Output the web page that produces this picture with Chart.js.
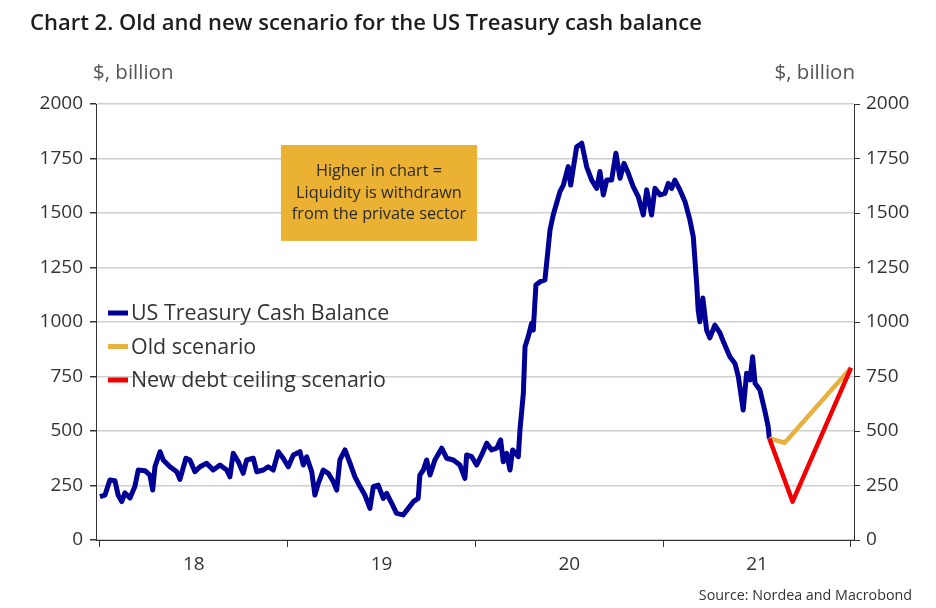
<!DOCTYPE html>
<html>
<head>
<meta charset="utf-8">
<script src="https://cdn.jsdelivr.net/npm/chart.js@4.4.0/dist/chart.umd.min.js"></script>
<style>
  html, body { margin: 0; padding: 0; background: #fff; }
  #wrap { position: relative; width: 936px; height: 608px; overflow: hidden; font-family: 'Open Sans', sans-serif; }
  #chart { position: absolute; left: 0; top: 0; }
  .txt { position: absolute; white-space: nowrap; line-height: 1; }
  #title { left: 30px; top: 10px; font-size: 22px; font-weight: 600; color: #1e1e1e; }
  .unit { top: 61px; font-size: 20.5px; color: #555; }
  #unitL { left: 93px; }
  #unitR { right: 81px; }
  #source { right: 24px; top: 588px; font-size: 14.3px; color: #333; }
</style>
</head>
<body>
<div id="wrap">
  <canvas id="chart" width="936" height="608" style="width:936px;height:608px"></canvas>
  <div class="txt" id="title">Chart 2. Old and new scenario for the US Treasury cash balance</div>
  <div class="txt unit" id="unitL">$, billion</div>
  <div class="txt unit" id="unitR">$, billion</div>
  <div class="txt" id="source">Source: Nordea and Macrobond</div>
</div>
<script>
// ---- data ----
const cashDates = [
  2018.000, 2018.027, 2018.053, 2018.080, 2018.097, 2018.116, 2018.133, 2018.160, 2018.186, 2018.204,
  2018.240, 2018.266, 2018.281, 2018.293, 2018.320, 2018.337, 2018.373, 2018.409, 2018.426, 2018.458,
  2018.479, 2018.506, 2018.533, 2018.568, 2018.603, 2018.639, 2018.675, 2018.692, 2018.710, 2018.737,
  2018.763, 2018.781, 2018.817, 2018.835, 2018.870, 2018.896, 2018.923, 2018.950, 2018.976, 2019.003,
  2019.030, 2019.065, 2019.083, 2019.101, 2019.128, 2019.145, 2019.163, 2019.189, 2019.216, 2019.243,
  2019.261, 2019.278, 2019.305, 2019.332, 2019.358, 2019.385, 2019.411, 2019.438, 2019.456, 2019.482,
  2019.509, 2019.527, 2019.554, 2019.580, 2019.615, 2019.642, 2019.669, 2019.695, 2019.704, 2019.722,
  2019.740, 2019.758, 2019.784, 2019.820, 2019.847, 2019.882, 2019.917, 2019.944, 2019.953, 2019.980,
  2020.006, 2020.033, 2020.060, 2020.086, 2020.113, 2020.134, 2020.148, 2020.166, 2020.184, 2020.198,
  2020.228, 2020.237, 2020.255, 2020.264, 2020.281, 2020.299, 2020.308, 2020.322, 2020.344, 2020.370,
  2020.379, 2020.397, 2020.414, 2020.432, 2020.450, 2020.468, 2020.494, 2020.507, 2020.539, 2020.566,
  2020.592, 2020.619, 2020.646, 2020.663, 2020.681, 2020.699, 2020.725, 2020.748, 2020.770, 2020.791,
  2020.814, 2020.840, 2020.867, 2020.894, 2020.912, 2020.938, 2020.956, 2020.983, 2021.009, 2021.027,
  2021.045, 2021.062, 2021.089, 2021.116, 2021.142, 2021.160, 2021.178, 2021.186, 2021.195, 2021.211,
  2021.231, 2021.248, 2021.275, 2021.302, 2021.320, 2021.355, 2021.382, 2021.400, 2021.426, 2021.444,
  2021.462, 2021.476, 2021.489, 2021.515, 2021.542, 2021.559, 2021.565
];
const cashValues = [
  199, 206, 275, 272, 206, 176, 216, 193, 245, 321,
  318, 298, 229, 336, 405, 367, 336, 313, 278, 375,
  367, 313, 336, 352, 321, 344, 321, 290, 398, 359,
  306, 367, 375, 313, 321, 336, 321, 405, 375, 336,
  390, 405, 344, 382, 313, 206, 260, 321, 306, 267,
  229, 367, 413, 352, 290, 245, 206, 145, 245, 252,
  191, 214, 168, 122, 115, 145, 176, 191, 298, 321,
  367, 298, 367, 421, 375, 367, 344, 283, 390, 382,
  344, 390, 444, 413, 421, 459, 359, 398, 321, 413,
  382, 505, 673, 887, 933, 994, 963, 1170, 1185, 1193,
  1269, 1422, 1491, 1545, 1598, 1628, 1713, 1628, 1804, 1820,
  1713, 1651, 1613, 1690, 1583, 1651, 1651, 1774, 1659, 1728,
  1682, 1621, 1575, 1491, 1606, 1491, 1613, 1583, 1590, 1636,
  1613, 1651, 1606, 1552, 1468, 1391, 1177, 1055, 1001, 1110,
  963, 927, 986, 950, 910, 841, 810, 749, 596, 765,
  734, 841, 719, 688, 589, 520, 466
];
const oldDates = [2021.565, 2021.647, 2022.0];
const oldValues = [466, 446, 790];
const newDates = [2021.565, 2021.689, 2022.0];
const newValues = [466, 176, 790];

const seriesNames = ['US Treasury Cash Balance', 'Old scenario', 'New debt ceiling scenario'];
const seriesColors = ['#000096', '#e8b03e', '#f00000'];

const yearTicks = [2018, 2019, 2020, 2021, 2022];
const yearLabels = ['18', '19', '20', '21'];

const noteLines = ['Higher in chart =', 'Liquidity is withdrawn', 'from the private sector'];

// ---- helpers ----
const toPoints = (xs, ys) => xs.map((x, i) => ({ x: x, y: ys[i] }));

const labelAt = {};
yearLabels.forEach((l, i) => labelAt[(yearTicks[i] + 0.5).toFixed(1)] = l);
const xTickValues = [];
yearTicks.forEach((y, i) => {
    xTickValues.push(y);
    if (i < yearLabels.length) xTickValues.push(y + 0.5);
});

const isYearTick = ctx => ctx.tick && Math.abs(ctx.tick.value % 1) < 1e-6;

// legend drawn inside the plot
const insideLegend = {
    id: 'insideLegend',
    afterDatasetsDraw(chart) {
        const ctx = chart.ctx;
        const area = chart.chartArea;
        ctx.save();
        ctx.font = '21.4px "Open Sans"';
        ctx.textBaseline = 'middle';
        ctx.textAlign = 'left';
        seriesNames.forEach((name, i) => {
            const y = area.top + 209 + i * 33.5;
            ctx.fillStyle = seriesColors[i];
            ctx.fillRect(area.left + 12, y - 2.5, 20, 5);
            ctx.fillStyle = '#333';
            ctx.fillText(name, area.left + 35, y + 1);
        });
        ctx.restore();
    }
};

// yellow note box
const noteBox = {
    id: 'noteBox',
    beforeDatasetsDraw(chart) {
        const ctx = chart.ctx;
        const xs = chart.scales.x;
        const ys = chart.scales.y;
        const left = xs.getPixelForValue(2018.964);
        const right = xs.getPixelForValue(2020.008);
        const top = ys.getPixelForValue(1812);
        const bottom = ys.getPixelForValue(1372);
        ctx.save();
        ctx.fillStyle = '#eab132';
        ctx.fillRect(left, top, right - left, bottom - top);
        ctx.fillStyle = '#2a2a2a';
        ctx.font = '16.3px "Open Sans"';
        ctx.textAlign = 'center';
        ctx.textBaseline = 'middle';
        const cx = (left + right) / 2;
        const cy = (top + bottom) / 2;
        noteLines.forEach((t, i) => ctx.fillText(t, cx, cy + (i - 1) * 21.3));
        ctx.restore();
    }
};

const tickFont = { family: 'Open Sans', size: 19 };
const plainNumber = value => String(value);

const CHART = document.getElementById('chart');
const cashChart = new Chart(CHART, {
    type: 'line',
    data: {
        datasets: [
            {
                label: seriesNames[0],
                data: toPoints(cashDates, cashValues),
                borderColor: seriesColors[0],
                borderWidth: 5,
                order: 3
            },
            {
                label: seriesNames[1],
                data: toPoints(oldDates, oldValues),
                borderColor: seriesColors[1],
                borderWidth: 4.5,
                order: 2
            },
            {
                label: seriesNames[2],
                data: toPoints(newDates, newValues),
                borderColor: seriesColors[2],
                borderWidth: 4.5,
                order: 1
            }
        ]
    },
    options: {
        responsive: false,
        animation: false,
        parsing: false,
        layout: { padding: { top: 104, left: 0, right: 0, bottom: 0 } },
        elements: {
            point: { radius: 0 },
            line: { tension: 0, borderJoinStyle: 'round', borderCapStyle: 'butt' }
        },
        plugins: {
            legend: { display: false },
            tooltip: { enabled: false },
            title: { display: false }
        },
        scales: {
            x: {
                type: 'linear',
                min: 2017.979,
                max: 2022.016,
                afterBuildTicks: axis => { axis.ticks = xTickValues.map(v => ({ value: v })); },
                afterFit: scale => { scale.height = 68; },
                ticks: {
                    autoSkip: false,
                    maxRotation: 0,
                    padding: 6,
                    color: '#333',
                    font: tickFont,
                    callback: value => labelAt[Number(value).toFixed(1)] || ''
                },
                grid: {
                    drawOnChartArea: false,
                    drawTicks: true,
                    tickLength: 7,
                    color: ctx => isYearTick(ctx) ? '#333' : 'rgba(0,0,0,0)',
                    tickColor: ctx => isYearTick(ctx) ? '#333' : 'rgba(0,0,0,0)'
                },
                border: { display: true, color: '#333', width: 1 }
            },
            y: {
                position: 'left',
                min: 0,
                max: 2000,
                afterFit: scale => { scale.width = 96; },
                ticks: { stepSize: 250, padding: 7, color: '#333', font: tickFont, callback: plainNumber },
                grid: { color: '#cfcfcf', lineWidth: 1.5, tickColor: '#333', tickLength: 6 },
                border: { display: true, color: '#333', width: 1 }
            },
            y2: {
                position: 'right',
                min: 0,
                max: 2000,
                afterFit: scale => { scale.width = 82; },
                ticks: { stepSize: 250, padding: 6, color: '#333', font: tickFont, callback: plainNumber },
                grid: { drawOnChartArea: false, tickColor: '#333', tickLength: 6 },
                border: { display: true, color: '#333', width: 1 }
            }
        }
    },
    plugins: [noteBox, insideLegend]
});
</script>
</body>
</html>
